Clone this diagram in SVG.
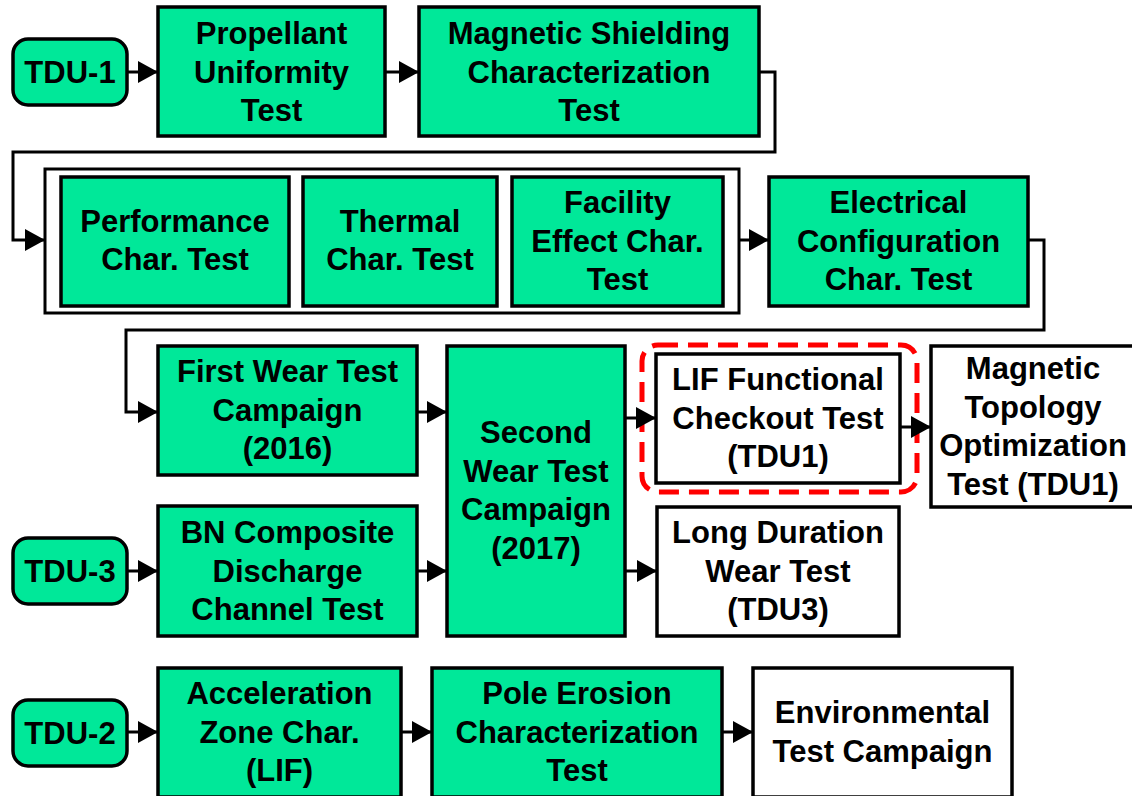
<svg xmlns="http://www.w3.org/2000/svg" width="1132" height="796" viewBox="0 0 1132 796">
<defs>
<style>
.g{fill:#00E899;stroke:#000;stroke-width:3.5}
.w{fill:#fff;stroke:#000;stroke-width:3.5}
.c{fill:none;stroke:#000;stroke-width:3}
.t{font-family:"Liberation Sans",Arial,sans-serif;font-weight:bold;font-size:31px;text-anchor:middle;fill:#000}
</style>
<marker id="ah" markerUnits="userSpaceOnUse" markerWidth="20" markerHeight="22" refX="20" refY="11" orient="auto" viewBox="0 0 20 22">
<path d="M0,0 L20,11 L0,22 z" fill="#000"/>
</marker>
</defs>
<rect width="1132" height="796" fill="#fff"/>

<g id="lifHighlight">
<rect fill="none" stroke="#FF0000" stroke-width="5" stroke-dasharray="20 10" x="642" y="345" width="275" height="147" rx="16"/>
</g>

<g id="connectors">
<path class="c" d="M127,72 H158" marker-end="url(#ah)"/>
<path class="c" d="M385,72 H419" marker-end="url(#ah)"/>
<path class="c" d="M759,72 H775 V152 H13 V240 H45" marker-end="url(#ah)"/>
<path class="c" d="M739,240 H769" marker-end="url(#ah)"/>
<path class="c" d="M1028,240 H1044 V330 H126 V412 H158" marker-end="url(#ah)"/>
<path class="c" d="M417,412 H447" marker-end="url(#ah)"/>
<path class="c" d="M625,418 H656" marker-end="url(#ah)"/>
<path class="c" d="M900,427 H931" marker-end="url(#ah)"/>
<path class="c" d="M127,571 H158" marker-end="url(#ah)"/>
<path class="c" d="M417,571 H447" marker-end="url(#ah)"/>
<path class="c" d="M625,571 H657" marker-end="url(#ah)"/>
<path class="c" d="M127,732 H158" marker-end="url(#ah)"/>
<path class="c" d="M401,732 H432" marker-end="url(#ah)"/>
<path class="c" d="M722,732 H753" marker-end="url(#ah)"/>
</g>

<g id="tdu1">
<rect class="g" x="13" y="39" width="114" height="66" rx="15"/>
<text class="t" x="70" y="83">TDU-1</text>
</g>
<g id="propellant">
<rect class="g" x="158" y="7" width="227" height="129"/>
<text class="t" x="271.5" y="44">Propellant</text>
<text class="t" x="271.5" y="82.5">Uniformity</text>
<text class="t" x="271.5" y="121">Test</text>
</g>
<g id="magshield">
<rect class="g" x="419" y="7" width="340" height="129"/>
<text class="t" x="589" y="44">Magnetic Shielding</text>
<text class="t" x="589" y="82.5">Characterization</text>
<text class="t" x="589" y="121">Test</text>
</g>

<g id="charGroup">
<rect fill="none" stroke="#000" stroke-width="3" x="45" y="169" width="694" height="144"/>
</g>
<g id="performance">
<rect class="g" x="61" y="177" width="228" height="129"/>
<text class="t" x="175" y="232">Performance</text>
<text class="t" x="175" y="270">Char. Test</text>
</g>
<g id="thermal">
<rect class="g" x="303" y="177" width="194" height="129"/>
<text class="t" x="400" y="232">Thermal</text>
<text class="t" x="400" y="270">Char. Test</text>
</g>
<g id="facility">
<rect class="g" x="512" y="177" width="211" height="129"/>
<text class="t" x="617.5" y="213">Facility</text>
<text class="t" x="617.5" y="251.5">Effect Char.</text>
<text class="t" x="617.5" y="290">Test</text>
</g>
<g id="electrical">
<rect class="g" x="769" y="177" width="259" height="129"/>
<text class="t" x="898.5" y="213">Electrical</text>
<text class="t" x="898.5" y="251.5">Configuration</text>
<text class="t" x="898.5" y="290">Char. Test</text>
</g>

<g id="firstwear">
<rect class="g" x="158" y="346" width="259" height="129"/>
<text class="t" x="287.5" y="382">First Wear Test</text>
<text class="t" x="287.5" y="420.5">Campaign</text>
<text class="t" x="287.5" y="459">(2016)</text>
</g>
<g id="secondwear">
<rect class="g" x="447" y="346" width="178" height="290"/>
<text class="t" x="536" y="443">Second</text>
<text class="t" x="536" y="481.5">Wear Test</text>
<text class="t" x="536" y="520">Campaign</text>
<text class="t" x="536" y="558.5">(2017)</text>
</g>
<g id="lifcheckout">
<rect class="w" x="656" y="354" width="244" height="129"/>
<text class="t" x="778" y="390">LIF Functional</text>
<text class="t" x="778" y="428.5">Checkout Test</text>
<text class="t" x="778" y="467">(TDU1)</text>
</g>
<g id="magtopo">
<rect class="w" x="931" y="346" width="205" height="161"/>
<text class="t" x="1033" y="379">Magnetic</text>
<text class="t" x="1033" y="417.5">Topology</text>
<text class="t" x="1033" y="456">Optimization</text>
<text class="t" x="1033" y="494.5">Test (TDU1)</text>
</g>

<g id="tdu3">
<rect class="g" x="13" y="538" width="114" height="66" rx="15"/>
<text class="t" x="70" y="582">TDU-3</text>
</g>
<g id="bncomposite">
<rect class="g" x="158" y="506" width="259" height="130"/>
<text class="t" x="287.5" y="543">BN Composite</text>
<text class="t" x="287.5" y="581.5">Discharge</text>
<text class="t" x="287.5" y="620">Channel Test</text>
</g>
<g id="longduration">
<rect class="w" x="657" y="507" width="242" height="129"/>
<text class="t" x="778" y="543">Long Duration</text>
<text class="t" x="778" y="581.5">Wear Test</text>
<text class="t" x="778" y="620">(TDU3)</text>
</g>

<g id="tdu2">
<rect class="g" x="13" y="700" width="114" height="66" rx="15"/>
<text class="t" x="70" y="744">TDU-2</text>
</g>
<g id="acceleration">
<rect class="g" x="158" y="668" width="243" height="129"/>
<text class="t" x="279.5" y="704">Acceleration</text>
<text class="t" x="279.5" y="742.5">Zone Char.</text>
<text class="t" x="279.5" y="781">(LIF)</text>
</g>
<g id="poleerosion">
<rect class="g" x="432" y="668" width="290" height="129"/>
<text class="t" x="577" y="704">Pole Erosion</text>
<text class="t" x="577" y="742.5">Characterization</text>
<text class="t" x="577" y="781">Test</text>
</g>
<g id="environmental">
<rect class="w" x="753" y="668" width="259" height="129"/>
<text class="t" x="882.5" y="723">Environmental</text>
<text class="t" x="882.5" y="761.5">Test Campaign</text>
</g>
</svg>
